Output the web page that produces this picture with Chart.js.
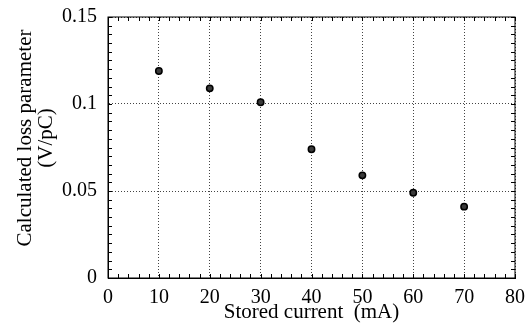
<!DOCTYPE html>
<html>
<head>
<meta charset="utf-8">
<title>Loss parameter vs stored current</title>
<script src="https://cdn.jsdelivr.net/npm/chart.js@4/dist/chart.umd.min.js"></script>
<style>
    html, body { margin: 0; padding: 0; background: #fff; }
    #wrap { width: 525px; height: 324px; position: relative; }
</style>
</head>
<body>
<div id="wrap"><canvas id="lossChart"></canvas></div>
<script>
// measured loss parameter per stored current
const currents = [10, 20, 30, 40, 50, 60, 70];
const lossParam = [0.119, 0.109, 0.101, 0.074, 0.059, 0.049, 0.041];

const xTicks = [0, 10, 20, 30, 40, 50, 60, 70, 80];
const yTicks = [0, 0.05, 0.1, 0.15];

const xTitle = 'Stored current  (mA)';
const yTitle = ['Calculated loss parameter', '(V/pC)'];

const SERIF = '"Liberation Serif", "Times New Roman", serif';

// frame, inward minor/major ticks and the axis titles
const framePlugin = {
    id: 'frame',
    afterDraw(chart) {
        const { ctx, chartArea: a, scales } = chart;
        const xs = scales.x, ys = scales.y;
        ctx.save();
        ctx.strokeStyle = '#000';
        ctx.lineWidth = 1;
        ctx.strokeRect(a.left, a.top, a.right - a.left, a.bottom - a.top);

        ctx.beginPath();
        for (let v = xTicks[0]; v <= xTicks[xTicks.length - 1]; v += 2) {
            const px = Math.round(xs.getPixelForValue(v)) + 0.5;
            ctx.moveTo(px, a.bottom); ctx.lineTo(px, a.bottom - 4);
            ctx.moveTo(px, a.top); ctx.lineTo(px, a.top + 4);
        }
        for (let i = 0; i <= 30; i++) {
            const py = Math.round(ys.getPixelForValue(i * 0.005)) + 0.5;
            ctx.moveTo(a.left, py); ctx.lineTo(a.left + 4, py);
            ctx.moveTo(a.right, py); ctx.lineTo(a.right - 4, py);
        }
        ctx.stroke();

        ctx.fillStyle = '#000';
        ctx.font = '21px ' + SERIF;
        ctx.textAlign = 'center';
        ctx.textBaseline = 'alphabetic';
        ctx.fillText(xTitle, (a.left + a.right) / 2, 318);

        ctx.translate(0, 138);
        ctx.rotate(-Math.PI / 2);
        ctx.fillText(yTitle[0], 0, 31);
        ctx.fillText(yTitle[1], 0, 52);
        ctx.restore();
    }
};

// keep label overhang from shrinking the plot area
const noOverhang = s => {
    s.paddingTop = 0; s.paddingBottom = 0;
    s.paddingLeft = 0; s.paddingRight = 0;
};

const ctx = document.getElementById('lossChart');
new Chart(ctx, {
    type: 'scatter',
    data: {
        datasets: [{
            data: currents.map((c, i) => ({ x: c, y: lossParam[i] })),
            pointRadius: 3.2,
            pointBackgroundColor: '#3a3a3a',
            pointBorderColor: '#000',
            pointBorderWidth: 1.5
        }]
    },
    options: {
        responsive: true,
        maintainAspectRatio: false,
        animation: false,
        layout: { padding: { top: 17, right: 10, left: 0, bottom: 0 } },
        plugins: {
            legend: { display: false },
            tooltip: { enabled: false }
        },
        scales: {
            x: {
                type: 'linear',
                min: xTicks[0],
                max: xTicks[xTicks.length - 1],
                afterFit: s => { s.height = 46; noOverhang(s); },
                afterBuildTicks: s => { s.ticks = xTicks.map(v => ({ value: v })); },
                ticks: {
                    color: '#000',
                    padding: 8,
                    maxRotation: 0,
                    font: { family: SERIF, size: 20 }
                },
                grid: {
                    color: '#444',
                    lineWidth: 1,
                    drawTicks: false
                },
                border: { display: true, color: '#000', width: 1, dash: [1, 2] }
            },
            y: {
                type: 'linear',
                min: yTicks[0],
                max: yTicks[yTicks.length - 1],
                afterFit: s => { s.width = 108; noOverhang(s); },
                afterBuildTicks: s => { s.ticks = yTicks.map(v => ({ value: v })); },
                ticks: {
                    color: '#000',
                    padding: 11,
                    font: { family: SERIF, size: 20 },
                    callback: v => String(+Number(v).toFixed(2))
                },
                grid: {
                    color: '#444',
                    lineWidth: 1,
                    drawTicks: false
                },
                border: { display: true, color: '#000', width: 1, dash: [1, 2] }
            }
        }
    },
    plugins: [framePlugin]
});
</script>
</body>
</html>
